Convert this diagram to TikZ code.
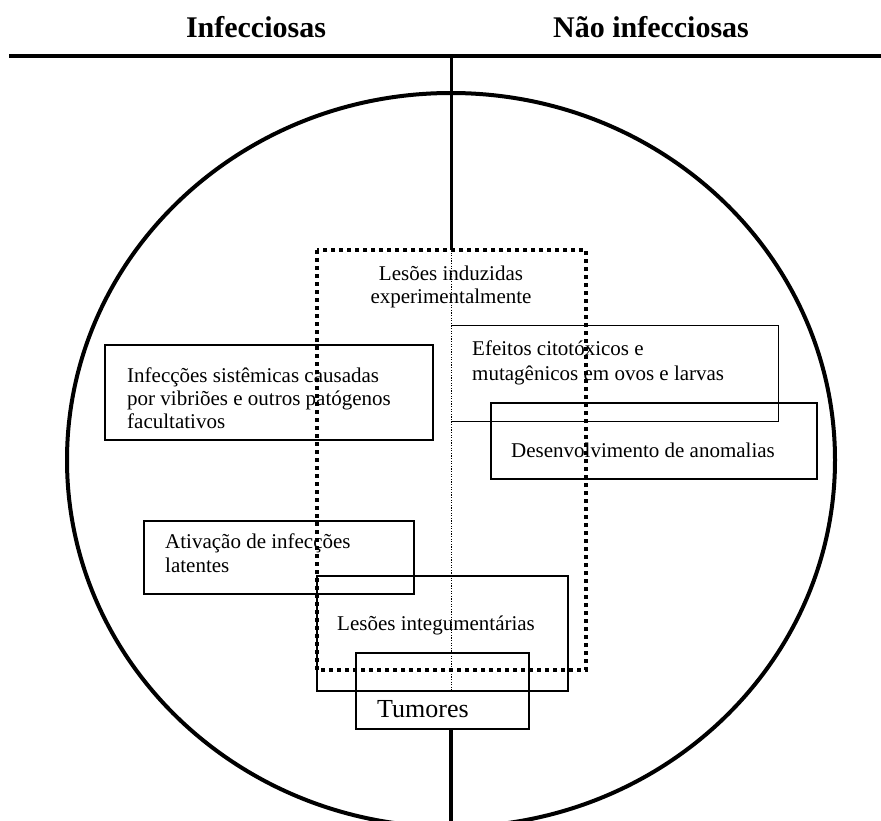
\documentclass[tikz,border=0pt]{standalone}
\usepackage{fontspec}
\setmainfont{Liberation Serif}
\begin{document}
\begin{tikzpicture}[x=1pt,y=-1pt,
  txt/.style={font=\fontsize{21}{24}\selectfont, inner sep=0pt, anchor=base west},
  ctxt/.style={font=\fontsize{21}{24}\selectfont, inner sep=0pt, anchor=base},
  head/.style={font=\fontsize{30}{34}\selectfont\bfseries, inner sep=0pt, anchor=base},
  box/.style={draw, line width=1.6pt, inner sep=0pt, anchor=north west},
  thinbox/.style={inner sep=0pt, anchor=north west},
  heavy/.style={line width=3.6pt},
  bigdots/.style={line width=3.6pt, dash pattern=on 3.6pt off 4.4pt},
  smalldots/.style={line width=1pt, dash pattern=on 1.2pt off 1.4pt}
]
\useasboundingbox (0,0) rectangle (881,821);

% headers
\node[head] (hinf) at (256,38) {Infecciosas};
\node[head] (hnao) at (651,38) {Não infecciosas};

% top line and axes
\coordinate (hl) at (9,56);
\coordinate (hr) at (881,56);
\coordinate (vtop) at (451,56);
\coordinate (bottom) at (451,821);
\draw[heavy] (hl) -- (hr);

% ellipse
\draw[line width=4pt] (451,460) ellipse [x radius=384, y radius=367];

% dotted rectangle
\coordinate (dnw) at (317,250);
\coordinate (dse) at (586,670);
\coordinate (dtop) at (451,250);
\coordinate (dbot) at (451,690);
\draw[line width=3pt] (vtop) -- (dtop);
\draw[smalldots] (dtop) -- (dbot);

% Infecções sistêmicas
\node[box, minimum width=328, minimum height=95] (inf) at (104,344) {};
\node[txt] (inf1) at (127,382) {Infecções sistêmicas causadas};
\node[txt] (inf2) at (127,405) {por vibriões e outros patógenos};
\node[txt] (inf3) at (127,428) {facultativos};

% Efeitos citotóxicos
\node[thinbox, minimum width=327, minimum height=96] (ef) at (451,325) {};
\draw[line width=1pt] (ef.north west) -- (ef.north east) -- (ef.south east) -- (ef.south west);
\node[txt] (ef1) at (472,355) {Efeitos citotóxicos e};
\node[txt] (ef2) at (472,380) {mutagênicos em ovos e larvas};

% Desenvolvimento de anomalias
\node[box, line width=2pt, minimum width=326, minimum height=76] (des) at (490,402) {};
\node[txt] (des1) at (511,457) {Desenvolvimento de anomalias};

% Ativação
\node[box, line width=2pt, minimum width=270, minimum height=73] (atv) at (143,520) {};
\node[txt] (atv1) at (165,548) {Ativação de infecções};
\node[txt] (atv2) at (165,572) {latentes};

% Lesões integumentárias
\node[box, minimum width=251, minimum height=115] (les) at (316,575) {};
\node[txt] (les1) at (337,630) {Lesões integumentárias};

% Tumores
\node[box, line width=2pt, minimum width=173, minimum height=76] (tum) at (355,652) {};
\node[txt, font=\fontsize{26}{30}\selectfont] (tum1) at (377,717) {Tumores};
\coordinate (tumbot) at (451,728);

% Lesões induzidas
\node[ctxt] (ind1) at (451,280) {Lesões induzidas};
\node[ctxt] (ind2) at (451,303) {experimentalmente};

% dotted rectangle on top
\draw[bigdots] (dnw) rectangle (dse);

% bottom axis
\draw[heavy] (tumbot) -- (bottom);
\end{tikzpicture}
\end{document}
